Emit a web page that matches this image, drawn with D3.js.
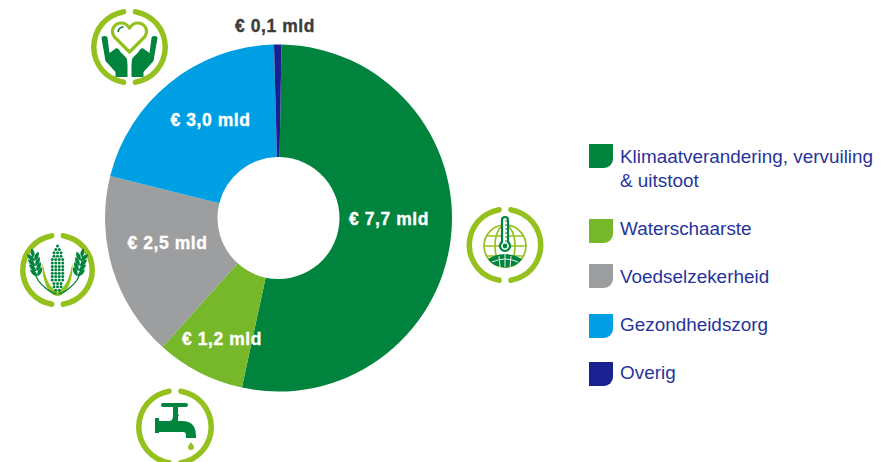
<!DOCTYPE html>
<html><head><meta charset="utf-8">
<script src="https://cdn.jsdelivr.net/npm/d3@7"></script>
<style>html,body{margin:0;padding:0;background:#fff}svg{display:block}text{font-family:"Liberation Sans",Arial,sans-serif}</style>
</head><body><svg id="c" width="890" height="462"></svg>
<script>
const categories = ["Klimaatverandering, vervuiling|& uitstoot","Waterschaarste","Voedselzekerheid","Gezondheidszorg","Overig"];
const values = [7.7,1.2,2.5,3.0,0.1];
const valueLabels = ["€ 7,7 mld","€ 1,2 mld","€ 2,5 mld","€ 3,0 mld","€ 0,1 mld"];
const colors = ["#00843d","#76b82a","#9d9e9f","#009fe3","#1a2090"];
const legendRows = [144,219,264,314,362];
const legendBase = [163,235,283,331,379];

const svg = d3.select("#c");
const cx=278.5, cy=218, R=173.5, r=61;
const start = 1*Math.PI/180;
const pie = d3.pie().sort(null).startAngle(start).endAngle(start+2*Math.PI);
const arc = d3.arc().innerRadius(r).outerRadius(R);
const g = svg.append("g").attr("transform",`translate(${cx},${cy})`);
g.selectAll("path").data(pie(values)).join("path").attr("d",arc).attr("fill",(d,i)=>colors[i]);

const labelPos = [[389,225],[222,345],[167.5,249],[210.5,126],[275,32]];
svg.selectAll("text.v").data(valueLabels).join("text").attr("class","v")
  .attr("x",(d,i)=>labelPos[i][0]).attr("y",(d,i)=>labelPos[i][1])
  .attr("text-anchor","middle").attr("font-size",17.5).attr("font-weight",700).attr("letter-spacing",0.55)
  .attr("stroke",(d,i)=>i===4?"#3c3c3b":"#fff").attr("stroke-width",0.35)
  .attr("fill",(d,i)=>i===4?"#3c3c3b":"#fff").text(d=>d);

// Legend
const sw=24, rad=9;
const swatch=`M0,0H${sw}V${sw-rad}A${rad},${rad} 0 0 1 ${sw-rad},${sw}H0Z`;
const leg = svg.selectAll("g.l").data(categories).join("g").attr("class","l");
leg.append("path").attr("transform",(d,i)=>`translate(589,${legendRows[i]})`).attr("d",swatch).attr("fill",(d,i)=>colors[i]);
leg.each(function(d,i){
  d.split("|").forEach((t,j)=>d3.select(this).append("text")
    .attr("x",620).attr("y",legendBase[i]+j*24).attr("font-size",18.9).attr("fill","#27349b").text(t));
});

// Icons
const ringC="#95c11f", dk="#00843d";
function icon(x,y,rad){
  const ig=svg.append("g").attr("transform",`translate(${x},${y})`);
  const gap=0.09;
  const ra=d3.arc().innerRadius(rad-5.5).outerRadius(rad).cornerRadius(2.5);
  ig.append("path").attr("d",ra({startAngle:gap,endAngle:Math.PI-gap})).attr("fill",ringC);
  ig.append("path").attr("d",ra({startAngle:Math.PI+gap,endAngle:2*Math.PI-gap})).attr("fill",ringC);
  return ig;
}
// heart + hands
{
 const i=icon(129.5,47,38.5);
 i.append("path").attr("d","M0,5 L-15,-10 C-20,-17 -15,-24 -8,-24 C-4,-24 -2,-22 0,-19 C2,-22 4,-24 8,-24 C15,-24 20,-17 15,-10 Z")
  .attr("fill","none").attr("stroke",ringC).attr("stroke-width",3.2).attr("stroke-linejoin","round");
 i.append("path").attr("d","M-6,-20 C-9,-20 -11,-18 -11.5,-15").attr("fill","none").attr("stroke",dk).attr("stroke-width",1.6);
 [-1,1].forEach(s=>i.append("path").attr("transform",`scale(${s},1)`)
   .attr("d","M-28,-9 Q-28,-11 -25,-11 Q-22,-11 -22,-9 L-20,6 L-13,1 Q-10,2 -9,5 L-3,11 Q-2,14 -2,18 V30 H-14 V25 L-24,14 Z").attr("fill",dk));
}
// globe + thermometer
{
 const i=icon(505,245,38.5);
 const s=i.append("g").attr("fill","none").attr("stroke",ringC).attr("stroke-width",1.7);
 s.append("circle").attr("r",21).attr("cy",1);
 s.append("ellipse").attr("rx",10).attr("ry",21).attr("cy",1);
 s.append("path").attr("d","M-21,1H21M-18,-9H18M-18,11H18");
 i.append("path").attr("d","M-17,14 Q0,4 17,14 Q12,22 0,22.5 Q-12,22 -17,14Z").attr("fill",dk);
 i.append("path").attr("d","M-13,17 Q0,11 13,17M0,9V22M-6,11L-5,22M6,11L5,22").attr("stroke","#fff").attr("stroke-width",0.9).attr("fill","none");
 i.append("path").attr("d","M-3,-25 A3,3 0 0 1 3,-25 V-3 A5,5 0 1 1 -3,-3 Z").attr("fill","#fff").attr("stroke",dk).attr("stroke-width",2.2);
 i.append("circle").attr("cy",1).attr("r",2.4).attr("fill",dk);
 i.append("path").attr("d","M0,-24H2M0,-20H2M0,-16H2M0,-12H2M0,-8H2M0,-4H2").attr("stroke",dk).attr("stroke-width",1);
}
// corn + wheat
{
 const i=icon(57.5,270,37.5);
 i.append("path").attr("d","M-15,-7 C-12,6 -10,16 0,22 C10,16 12,6 15,-7 C16,10 9,26 0,26 C-9,26 -16,10 -15,-7Z").attr("fill",ringC);
 const rowCounts=[1,2,3,3,4,4,4,4,4,4,4,3,3,2];
 rowCounts.forEach((n,row)=>{
   for(let k=0;k<n;k++)
     i.append("circle").attr("cx",(k-(n-1)/2)*3.5).attr("cy",-24+row*3.4).attr("r",1.5).attr("fill",dk);
 });
 [-1,1].forEach(sd=>{
   const w=i.append("g").attr("transform",`scale(${sd},1)`);
   w.append("path").attr("d","M25,-14 C24,2 22,10 13,17 C9,21 5,23 1,24").attr("fill","none").attr("stroke",dk).attr("stroke-width",1.3);
   const e=w.append("g").attr("transform","translate(24,-13) rotate(12)");
   for(let k=0;k<4;k++){
     const ky=k*5.2-2;
     e.append("path").attr("d",`M0,${ky+6} C-5,${ky+5} -6,${ky+1} -6,${ky-2} C-2,${ky-1} 0,${ky+2} 0,${ky+6}Z`).attr("fill",dk);
     e.append("path").attr("d",`M0,${ky+6} C5,${ky+5} 6,${ky+1} 6,${ky-2} C2,${ky-1} 0,${ky+2} 0,${ky+6}Z`).attr("fill",dk);
   }
   e.append("path").attr("d","M0,0 C-3,-3 -2,-6 0,-9 C2,-6 3,-3 0,0Z").attr("fill",dk);
 });
}
// tap
{
 const i=icon(175,427,39);
 i.append("rect").attr("x",-14).attr("y",-24).attr("width",27).attr("height",4).attr("rx",2).attr("fill",dk);
 i.append("path").attr("d","M-2,-21 H3 V-13 L4,-11 H3 V-6 H7 Q21,-6 21,9 V11 H11 V8 Q11,5 8,5 H-16 V6 H-20 V-9 H-16 V-6 H-5 Q-2,-7 -2,-11 Z").attr("fill",dk);
 i.append("path").attr("d","M16,15 C18,18 19,19 19,20 A3,3 0 0 1 13,20 C13,19 14,18 16,15Z").attr("fill",ringC);
}
</script></body></html>
